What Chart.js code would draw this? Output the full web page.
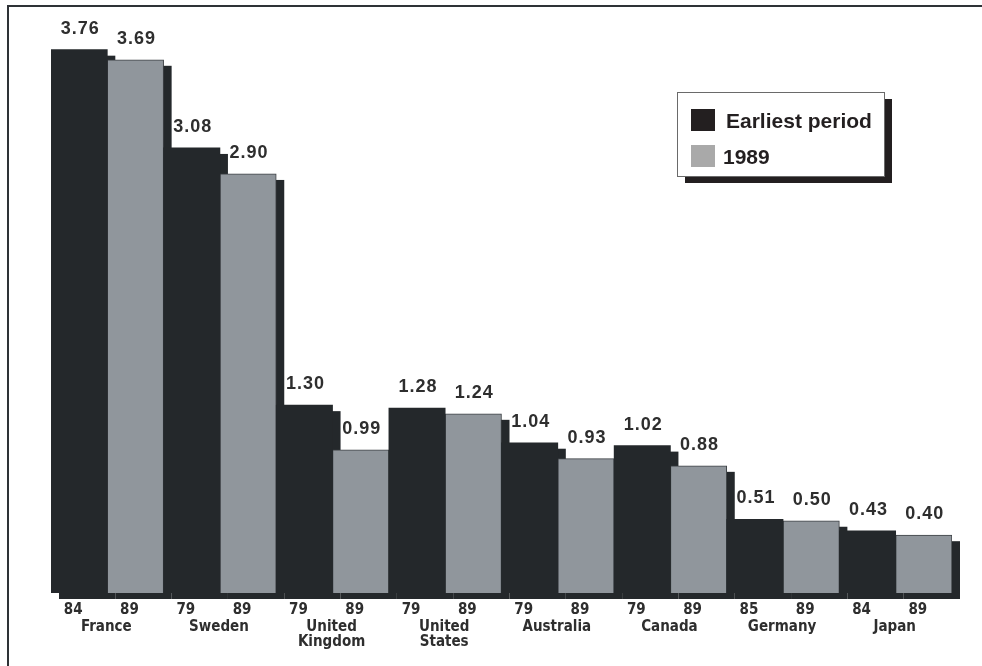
<!DOCTYPE html>
<html>
<head>
<meta charset="utf-8">
<script src="https://cdn.jsdelivr.net/npm/chart.js@4.4.1/dist/chart.umd.min.js"></script>
<style>
  html, body { margin: 0; padding: 0; background: #fff; }
  #wrap { width: 982px; height: 666px; }
</style>
</head>
<body>
<div id="wrap"><canvas id="chart" width="982" height="666"></canvas></div>
<script>
// data
const countries = [['France'], ['Sweden'], ['United', 'Kingdom'], ['United', 'States'], ['Australia'], ['Canada'], ['Germany'], ['Japan']];
const earliestValues = [3.76, 3.08, 1.30, 1.28, 1.04, 1.02, 0.51, 0.43];
const lateValues = [3.69, 2.90, 0.99, 1.24, 0.93, 0.88, 0.50, 0.40];
const earliestYears = ['84', '79', '79', '79', '79', '79', '85', '84'];
const lateYears = ['89', '89', '89', '89', '89', '89', '89', '89'];
const seriesNames = ['Earliest period', '1989'];

const DARK = '#24282b';
const GRAY = '#90969c';
const TEXT = '#2e2e2e';
const NARROW = "'Liberation Sans Narrow', 'Arial Narrow', 'DejaVu Sans Condensed', sans-serif";
const WIDE = "'Liberation Sans', Arial, sans-serif";

// frame, drop shadows, value labels, year + country labels, legend box
const decorPlugin = {
    id: 'decor',
    beforeDatasetsDraw(chart) {
        const ctx = chart.ctx;
        ctx.save();
        ctx.fillStyle = DARK;
        chart.data.datasets.forEach((ds, i) => {
            chart.getDatasetMeta(i).data.forEach(bar => {
                const p = bar.getProps(['x', 'y', 'base', 'width'], true);
                ctx.fillRect(p.x - p.width / 2 + 8, p.y + 6, p.width, p.base - p.y);
            });
        });
        ctx.restore();
    },
    afterDraw(chart) {
        const ctx = chart.ctx;
        ctx.save();

        // page frame (top + left only visible)
        ctx.strokeStyle = '#2e3236';
        ctx.lineWidth = 2;
        ctx.beginPath();
        ctx.moveTo(8, 666);
        ctx.lineTo(8, 6);
        ctx.lineTo(982, 6);
        ctx.stroke();

        const darkMeta = chart.getDatasetMeta(0).data;
        const lateMeta = chart.getDatasetMeta(1).data;

        // value labels
        ctx.fillStyle = TEXT;
        ctx.textAlign = 'center';
        ctx.textBaseline = 'alphabetic';
        ctx.font = 'bold 18px ' + WIDE;
        ctx.letterSpacing = '1px';
        chart.data.datasets.forEach((ds, i) => {
            chart.getDatasetMeta(i).data.forEach((bar, j) => {
                ctx.fillText(ds.data[j].toFixed(2), bar.x + 1, bar.y - 16);
            });
        });
        ctx.letterSpacing = '0px';

        // year labels and country names
        ctx.font = 'bold 15px ' + NARROW;
        const base = chart.chartArea.bottom;
        countries.forEach((name, j) => {
            const a = darkMeta[j], b = lateMeta[j];
            ctx.fillText(earliestYears[j], a.x - 6, base + 21);
            ctx.fillText(lateYears[j], b.x - 6, base + 21);
            const cx = (a.x + b.x) / 2 - 1;
            name.forEach((line, k) => {
                ctx.fillText(line, cx, base + 38 + k * 15);
            });
        });

        // legend box with shadow
        const lx = 677, ly = 92, lw = 207, lh = 84;
        ctx.fillStyle = '#231f20';
        ctx.fillRect(lx + 8, ly + 7, lw, lh);
        ctx.fillStyle = '#fff';
        ctx.fillRect(lx, ly, lw, lh);
        ctx.strokeStyle = '#6a6a6a';
        ctx.lineWidth = 1;
        ctx.strokeRect(lx + 0.5, ly + 0.5, lw, lh);

        const swatches = ['#231f20', '#a9a9a9'];
        ctx.textAlign = 'left';
        ctx.font = 'bold 21px ' + WIDE;
        seriesNames.forEach((label, i) => {
            const top = ly + 17 + i * 36;
            ctx.fillStyle = swatches[i];
            ctx.fillRect(lx + 14, top, 24, 22);
            ctx.fillStyle = '#231f20';
            ctx.fillText(label, lx + (i === 0 ? 49 : 46), top + 19);
        });

        ctx.restore();
    }
};

new Chart(document.getElementById('chart'), {
    type: 'bar',
    data: {
        labels: countries,
        datasets: [
            {
                label: seriesNames[0],
                data: earliestValues,
                backgroundColor: DARK,
                borderWidth: 0,
                categoryPercentage: 1,
                barPercentage: 1
            },
            {
                label: seriesNames[1],
                data: lateValues,
                backgroundColor: GRAY,
                borderColor: '#3c4044',
                borderWidth: 1,
                categoryPercentage: 1,
                barPercentage: 1
            }
        ]
    },
    options: {
        responsive: false,
        animation: false,
        layout: { padding: { left: 51, right: 30, top: 15, bottom: 73 } },
        scales: {
            x: { display: false },
            y: { display: false, min: 0, max: 4 }
        },
        plugins: {
            legend: { display: false },
            tooltip: { enabled: false }
        }
    },
    plugins: [decorPlugin]
});
</script>
</body>
</html>
